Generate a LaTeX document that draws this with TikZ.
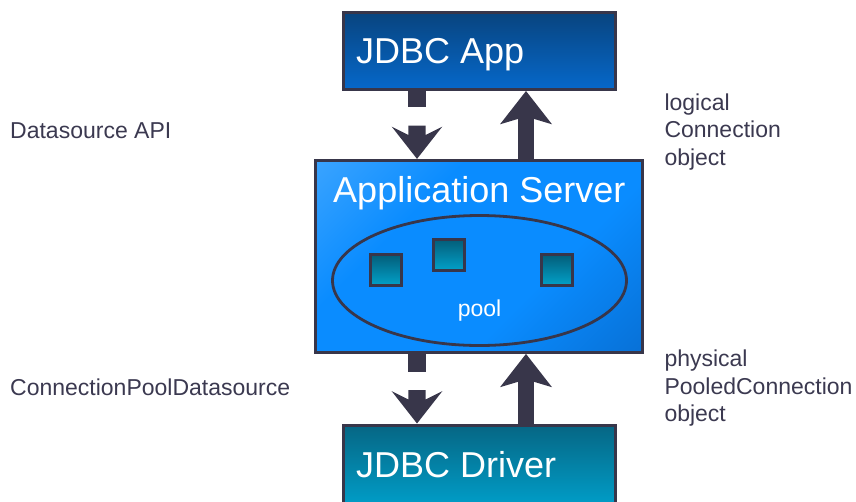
\documentclass[tikz,border=0pt]{standalone}
\usepackage{fontspec}
\setmainfont{Liberation Sans}
\usetikzlibrary{calc,shapes.geometric}

\definecolor{ink}{HTML}{38364A}
\definecolor{notecol}{HTML}{3B3950}
\definecolor{appTop}{HTML}{08447F}
\definecolor{appBot}{HTML}{0668CA}
\definecolor{srvA}{HTML}{5CB4FF}
\definecolor{srvB}{HTML}{0A8CFF}
\definecolor{srvC}{HTML}{0660BE}
\definecolor{drvTop}{HTML}{066684}
\definecolor{drvBot}{HTML}{00A4D0}
\definecolor{conTop}{HTML}{035C78}
\definecolor{conBot}{HTML}{02A0C8}

% diagonal fill of the application server
\pgfdeclarehorizontalshading{srvshade}{100bp}{color(0bp)=(srvA); color(35bp)=(srvB); color(62bp)=(srvB); color(100bp)=(srvC)}

\begin{document}
\begin{tikzpicture}[x=1pt,y=-1pt,
  box/.style={draw=ink, line width=3pt, rectangle, inner sep=0pt},
  boxtitle/.style={text=white, font=\fontsize{36}{40}\selectfont, inner sep=0pt},
  notetext/.style={text=notecol, font=\fontsize{23}{27.5}\selectfont, align=left, inner sep=0pt},
  pooltext/.style={text=white, font=\fontsize{23}{27}\selectfont, inner sep=0pt},
  conn/.style={draw=ink, line width=3pt, minimum size=31pt, inner sep=0pt, top color=conTop, bottom color=conBot},
  flow/.style={fill=ink},
  headup/.pic={\fill[flow] (0,0) -- (26,33.3) -- (8.3,28) -- (-8.3,28) -- (-26,33.3) -- cycle;},
  headdown/.pic={\fill[flow] (0,0) -- (25.3,-32.3) -- (8.7,-24) -- (8.7,-33.3) -- (-8.7,-33.3) -- (-8.7,-24) -- (-25.3,-32.3) -- cycle;},
]
\useasboundingbox (0,0) rectangle (856,501);
\begin{scope}
\clip (0,0) rectangle (856,501);

% tiers
\node[box, minimum width=272pt, minimum height=77pt, top color=appTop, bottom color=appBot] (app) at (479.5,51) {};
\node[box, minimum width=327pt, minimum height=192pt, shade, shading=srvshade, shading angle=-45] (server) at (479.3,256.4) {};
\node[box, minimum width=272pt, minimum height=90pt, top color=drvTop, bottom color=drvBot] (driver) at (479.5,470) {};

% connection pool
\node[ellipse, draw=ink, line width=2.8pt, minimum width=294pt, minimum height=130pt, inner sep=0pt] (pool) at (479.5,280.5) {};
\node[conn] (c1) at ($(pool)+(-93.5,-11)$) {};
\node[conn] (c2) at ($(pool)+(-31,-26)$) {};
\node[conn] (c3) at ($(pool)+(77.5,-11)$) {};

% titles
\node[boxtitle, anchor=base west] (tapp) at ($(app.north west)+(14,52)$) {JDBC App};
\node[boxtitle, anchor=base] (tsrv) at ($(server.north)+(0,43.5)$) {Application Server};
\node[boxtitle, anchor=base west] (tdrv) at ($(driver.north west)+(14,53.5)$) {JDBC Driver};
\node[pooltext, anchor=base] (tpool) at ($(pool.south)+(0,-30)$) {pool};

% upper pair of arrows
\coordinate (dnAx) at ($(app.south west)+(75,0)$);
\coordinate (dnA) at (dnAx |- server.north);
\fill[flow] ($(dnAx)+(-8.7,0)$) rectangle ($(dnAx)+(8.7,16.3)$);
\pic at (dnA) {headdown};

\coordinate (upA) at ($(app.south west)+(184,0)$);
\pic at (upA) {headup};
\fill[flow] ($(upA)+(-8.3,27)$) rectangle ($(upA |- server.north)+(8.3,0)$);

% lower pair of arrows
\coordinate (dnBx) at (dnAx |- server.south);
\coordinate (dnB) at (dnAx |- driver.north);
\fill[flow] ($(dnBx)+(-8.7,0)$) rectangle ($(dnBx)+(8.7,18)$);
\pic at (dnB) {headdown};

\coordinate (upB) at (upA |- server.south);
\pic at (upB) {headup};
\fill[flow] ($(upB)+(-8.3,27)$) rectangle ($(upB |- driver.north)+(8.3,0)$);

% side notes (multi-line notes are anchored on their last line)
\node[notetext, anchor=base west] (napi) at (10,138.3) {Datasource API};
\node[notetext, anchor=base west] (nlog) at (664.3,165) {logical\\Connection\\object};
\node[notetext, anchor=base west] (npds) at (10,395) {ConnectionPoolDatasource};
\node[notetext, anchor=base west] (nphy) at (664.3,421.7) {physical\\PooledConnection\\object};
\end{scope}
\end{tikzpicture}
\end{document}
